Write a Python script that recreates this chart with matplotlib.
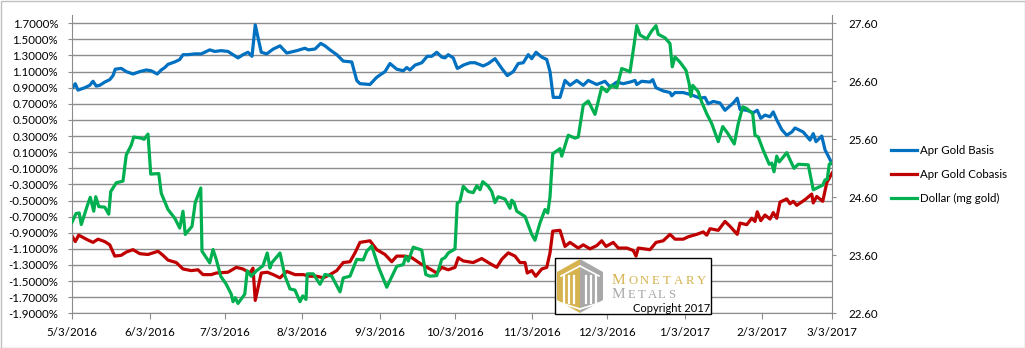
import numpy as np
import pandas as pd
import matplotlib
matplotlib.use('Agg')
import matplotlib.pyplot as plt
import matplotlib.ticker as mticker
from matplotlib.patches import Polygon, Rectangle
from matplotlib.lines import Line2D

plt.rcParams['font.family'] = ['Lato', 'DejaVu Sans']

W, H = 1025, 348
start = pd.Timestamp('2016-05-03')
end = pd.Timestamp('2017-03-03')

# days after 5/3/2016 and April gold basis (%)
basis_days = [0, 1.3, 2.4, 5.1, 7.1, 8.4, 9.7, 11.1, 13.1, 15.1,
              16.4, 17.3, 19.7, 21.7, 24.4, 27.1, 29.7, 31.7, 34.1, 35.7,
              37.1, 38.4, 41.1, 43.1, 44.4, 46.4, 49.1, 51.7, 53.1, 55.1,
              57.1, 59.7, 62.4, 64.4, 66.4, 68.4, 70.4, 72.0, 73.3, 75.7,
              77.9, 80.5, 83.2, 85.9, 89.9, 93.2, 94.5, 97.2, 99.5, 101.2,
              103.2, 105.9, 108.5, 111.9, 113.9, 115.2, 119.2, 121.9, 125.2, 127.2,
              129.9, 132.5, 133.9, 135.2, 137.2, 139.9, 142.1, 143.9, 145.9, 147.9,
              149.2, 150.5, 152.5, 154.1, 154.9, 156.5, 159.2, 161.2, 164.5, 166.5,
              169.2, 171.9, 174.1, 176.5, 178.5, 180.5, 182.5, 183.9, 185.6, 187.9,
              189.9, 191.2, 192.5, 195.2, 197.2, 199.2, 201.9, 204.5, 206.5, 209.9,
              213.2, 215.2, 217.9, 220.5, 223.2, 225.2, 225.9, 227.9, 231.2, 232.3,
              233.6, 236.5, 239.2, 239.9, 241.2, 244.5, 247.9, 251.2, 253.2, 254.5,
              256.5, 259.2, 261.2, 264.5, 266.1, 267.2, 269.9, 272.5, 274.1, 275.5,
              277.2, 279.2, 280.5, 281.9, 283.9, 285.9, 287.9, 289.2, 292.5, 295.2,
              296.5, 297.6, 299.9, 301.2, 304]
basis = [0.89, 0.95, 0.87, 0.90, 0.93, 0.98, 0.92, 0.93, 0.97, 1.00,
         1.05, 1.13, 1.14, 1.10, 1.07, 1.10, 1.12, 1.11, 1.07, 1.12,
         1.15, 1.19, 1.22, 1.25, 1.31, 1.31, 1.32, 1.32, 1.34, 1.37,
         1.35, 1.36, 1.35, 1.31, 1.27, 1.31, 1.34, 1.29, 1.68, 1.34,
         1.32, 1.38, 1.42, 1.33, 1.36, 1.39, 1.37, 1.38, 1.45, 1.42,
         1.37, 1.31, 1.23, 1.22, 0.99, 0.95, 0.94, 1.03, 1.10, 1.20,
         1.13, 1.11, 1.15, 1.12, 1.18, 1.21, 1.29, 1.29, 1.34, 1.28,
         1.27, 1.31, 1.27, 1.14, 1.15, 1.18, 1.21, 1.21, 1.17, 1.20,
         1.26, 1.14, 1.05, 1.10, 1.20, 1.21, 1.31, 1.26, 1.34, 1.28,
         1.25, 1.10, 0.78, 0.78, 0.99, 0.93, 0.99, 0.93, 0.99, 0.94,
         0.98, 0.91, 0.97, 0.95, 0.97, 0.99, 0.94, 0.98, 0.97, 1.00,
         0.90, 0.86, 0.84, 0.80, 0.84, 0.84, 0.81, 0.77, 0.78, 0.70,
         0.73, 0.71, 0.62, 0.71, 0.77, 0.63, 0.62, 0.59, 0.62, 0.52,
         0.56, 0.54, 0.60, 0.50, 0.38, 0.31, 0.35, 0.40, 0.35, 0.25,
         0.33, 0.23, 0.30, 0.13, -0.04]

# April gold cobasis (%)
cobasis_days = [0, 1.3, 2.7, 5.7, 8.4, 10.4, 13.1, 15.1, 17.1, 19.7,
                21.7, 24.4, 27.1, 30.4, 32.4, 34.4, 36.4, 38.4, 41.7, 44.4,
                47.7, 50.4, 52.4, 55.7, 57.7, 62.4, 65.7, 68.4, 71.1, 72.4,
                73.3, 75.7, 78.1, 80.5, 83.2, 85.9, 89.2, 92.5, 95.2, 97.9,
                100.5, 103.2, 105.9, 108.5, 111.2, 113.2, 115.2, 119.2, 121.9, 125.2,
                127.9, 129.9, 133.2, 135.9, 139.2, 143.2, 145.9, 147.9, 150.5, 153.2,
                154.5, 156.5, 160.5, 163.9, 166.5, 169.9, 171.9, 174.5, 177.2, 179.2,
                181.2, 182.1, 183.9, 185.5, 187.9, 189.9, 191.2, 192.3, 195.2, 197.2,
                199.2, 202.5, 204.5, 207.2, 209.9, 211.9, 213.6, 216.5, 218.5, 221.9,
                224.5, 225.6, 226.5, 231.2, 232.3, 233.6, 236.5, 239.2, 241.2, 244.5,
                246.5, 249.9, 252.5, 253.9, 255.2, 258.5, 261.2, 263.2, 266.1, 267.2,
                269.9, 271.9, 273.2, 274.1, 275.5, 277.2, 279.2, 280.5, 281.9, 283.2,
                285.9, 287.2, 288.5, 289.9, 293.2, 295.9, 296.5, 297.9, 300.3, 301.9,
                304]
cobasis = [-0.94, -1.01, -0.93, -0.98, -1.02, -0.98, -1.01, -1.05, -1.19, -1.18,
           -1.14, -1.11, -1.16, -1.17, -1.15, -1.13, -1.18, -1.24, -1.27, -1.35,
           -1.37, -1.36, -1.42, -1.42, -1.40, -1.39, -1.33, -1.35, -1.40, -1.34,
           -1.74, -1.40, -1.39, -1.42, -1.46, -1.38, -1.42, -1.42, -1.44, -1.44,
           -1.46, -1.42, -1.37, -1.27, -1.26, -1.15, -1.02, -1.00, -1.11, -1.17,
           -1.26, -1.19, -1.19, -1.21, -1.28, -1.35, -1.40, -1.33, -1.36, -1.33,
           -1.21, -1.25, -1.27, -1.22, -1.27, -1.33, -1.23, -1.15, -1.19, -1.27,
           -1.27, -1.40, -1.37, -1.44, -1.35, -1.33, -1.15, -0.88, -0.87, -1.07,
           -1.02, -1.09, -1.05, -1.10, -1.06, -1.00, -1.07, -1.02, -1.09, -1.09,
           -1.12, -1.19, -1.09, -1.11, -1.07, -1.02, -1.00, -0.92, -0.98, -0.98,
           -0.95, -0.92, -0.89, -0.93, -0.85, -0.87, -0.76, -0.82, -0.92, -0.78,
           -0.80, -0.72, -0.76, -0.64, -0.75, -0.68, -0.73, -0.65, -0.72, -0.52,
           -0.48, -0.54, -0.51, -0.56, -0.49, -0.42, -0.53, -0.45, -0.51, -0.28,
           -0.16]

# Dollar priced in milligrams of gold (right axis)
dollar_days = [0, 1.6, 2.9, 3.7, 6.0, 7.3, 8.7, 9.5, 10.7, 13.1,
               14.7, 15.5, 17.7, 20.4, 21.7, 23.7, 24.7, 27.7, 28.8, 30.4,
               31.5, 34.7, 35.7, 38.4, 41.1, 43.1, 44.4, 45.3, 48.0, 49.3,
               51.5, 52.0, 55.1, 56.4, 57.7, 59.5, 61.7, 63.7, 64.4, 65.3,
               66.4, 69.1, 70.1, 71.7, 73.7, 76.4, 78.1, 79.2, 79.9, 83.2,
               85.2, 87.2, 89.2, 91.2, 92.3, 93.6, 94.1, 96.5, 99.2, 101.2,
               103.9, 107.2, 108.5, 111.2, 113.9, 116.5, 117.9, 119.9, 122.5, 125.9,
               129.9, 132.5, 133.5, 134.5, 136.5, 139.9, 141.5, 143.2, 145.9, 147.9,
               149.2, 150.5, 153.2, 154.1, 155.2, 156.5, 158.5, 160.5, 161.9, 163.2,
               164.3, 166.5, 167.9, 169.2, 170.5, 173.2, 175.2, 175.9, 176.8, 177.9,
               181.2, 183.9, 185.2, 187.2, 189.2, 190.3, 191.2, 192.3, 195.2, 195.9,
               198.5, 201.2, 202.5, 204.5, 206.5, 209.2, 211.9, 213.9, 215.9, 217.9,
               219.9, 221.9, 223.2, 224.8, 225.9, 227.2, 229.9, 231.9, 233.6, 234.5,
               237.2, 239.2, 240.1, 241.2, 243.2, 245.6, 246.9, 247.5, 248.3, 250.5,
               251.9, 253.9, 255.9, 258.5, 260.3, 262.5, 264.9, 266.5, 268.3, 269.9,
               272.3, 273.2, 274.5, 276.5, 278.9, 279.9, 280.8, 281.9, 282.9, 285.9,
               288.8, 290.5, 294.5, 296.5, 300.3, 301.2, 302.1, 302.9, 304]
dollar = [24.17, 24.32, 24.33, 24.13, 24.44, 24.60, 24.36, 24.61, 24.44, 24.43,
          24.31, 24.70, 24.85, 24.88, 25.33, 25.50, 25.64, 25.62, 25.60, 25.69,
          25.00, 25.01, 24.67, 24.39, 24.24, 24.07, 24.36, 23.96, 24.10, 24.51,
          24.76, 23.67, 23.47, 23.70, 23.53, 23.24, 23.10, 22.93, 22.80, 22.87,
          22.77, 22.93, 23.33, 23.24, 23.33, 23.42, 23.64, 23.38, 23.47, 23.64,
          23.24, 23.02, 23.00, 22.80, 22.90, 22.84, 23.28, 23.28, 23.10, 23.27,
          23.24, 22.97, 23.21, 23.24, 23.53, 23.52, 23.67, 23.76, 23.41, 23.05,
          23.41, 23.44, 23.58, 23.50, 23.74, 23.69, 23.27, 23.24, 23.25, 23.53,
          23.56, 23.64, 23.71, 24.50, 24.53, 24.79, 24.70, 24.68, 24.80, 24.73,
          24.87, 24.79, 24.70, 24.51, 24.61, 24.57, 24.41, 24.55, 24.51, 24.36,
          24.27, 23.96, 23.86, 24.16, 24.39, 24.33, 24.61, 25.35, 25.44, 25.31,
          25.67, 25.62, 25.64, 26.19, 26.26, 26.03, 26.50, 26.42, 26.53, 26.49,
          26.82, 26.79, 26.76, 27.22, 27.56, 27.40, 27.33, 27.47, 27.56, 27.41,
          27.35, 27.25, 26.85, 27.02, 26.93, 26.79, 26.55, 26.34, 26.53, 26.42,
          26.24, 26.04, 25.87, 25.56, 25.82, 25.69, 25.52, 25.87, 26.16, 26.13,
          26.04, 25.67, 25.64, 25.41, 25.17, 25.19, 25.04, 25.31, 25.21, 25.37,
          25.10, 25.17, 25.16, 24.73, 24.81, 24.90, 24.91, 25.17, 25.20]

left_ticks = np.round(np.arange(-19, 18, 2) / 10, 1)
right_ticks = [22.6, 23.6, 24.6, 25.6, 26.6, 27.6]
month_ticks = pd.date_range(start, end, freq=pd.DateOffset(months=1))
month_labels = [f'{d.month}/{d.day}/{d.year}' for d in month_ticks]

BLUE, RED, GREEN = '#0070C0', '#C00000', '#00B050'
GRID = '#8C8C8C'


def px(x, y):
    # pixel position -> figure fraction
    return x / W, 1 - y / H


def dates(days):
    return start + pd.to_timedelta(days, unit='D')


fig = plt.figure(figsize=(W / 100, H / 100), dpi=100)
ax = fig.add_axes([72 / W, 1 - 313.3 / H, (832 - 72) / W, (313.3 - 15.2) / H])
ax2 = ax.twinx()

ax.plot(dates(basis_days), basis, color=BLUE, lw=2.3, solid_joinstyle='round')
ax.plot(dates(cobasis_days), cobasis, color=RED, lw=2.3, solid_joinstyle='round')
ax2.plot(dates(dollar_days), dollar, color=GREEN, lw=2.3, solid_joinstyle='round')

ax.set_xlim(start, end)
ax.set_ylim(-1.9, 1.8)
ax.set_yticks(left_ticks)
ax.yaxis.set_major_formatter(mticker.FuncFormatter(lambda v, p: f'{v:.4f}%'))
ax.set_xticks(month_ticks)
ax.set_xticklabels(month_labels)
ax.grid(axis='y', color=GRID, lw=1)
ax.set_axisbelow(True)

ax2.set_ylim(22.6, 27.74)
ax2.set_yticks(right_ticks)
ax2.yaxis.set_major_formatter(mticker.FuncFormatter(lambda v, p: f'{v:.2f}'))

for a in (ax, ax2):
    for s in a.spines.values():
        s.set_color(GRID)
    a.spines['top'].set_visible(False)
ax.spines['right'].set_visible(False)
ax2.spines['left'].set_visible(False)
ax2.spines['bottom'].set_visible(False)

ax.tick_params(axis='y', length=3, color=GRID, pad=7, labelsize=8.3)
ax.tick_params(axis='x', length=4, color=GRID, pad=6, labelsize=8.3)
ax2.tick_params(axis='y', length=3, color=GRID, pad=9, labelsize=8.3)

# legend drawn by hand on the right
legend = [('Apr Gold Basis', BLUE), ('Apr Gold Cobasis', RED), ('Dollar (mg gold)', GREEN)]
for i, (name, col) in enumerate(legend):
    y = 150 + 24 * i
    x0, y0 = px(891, y)
    x1, _ = px(917, y)
    fig.add_artist(Line2D([x0, x1], [y0, y0], color=col, lw=2.3))
    tx, ty = px(920, y)
    fig.text(tx, ty, name, fontsize=8.3, va='center', ha='left')

# Monetary Metals logo box
bx, by = px(555, 314)
bw, bh = 156 / W, 56 / H
fig.add_artist(Rectangle((bx, by), bw, bh, transform=fig.transFigure,
                         facecolor='white', edgecolor='black', lw=1, zorder=10))
gold, grey = '#D6B34E', '#A8A8A8'
left_half = [px(580, 259), px(557, 272), px(557, 300), px(580, 313)]
right_half = [px(580, 259), px(603, 272), px(603, 300), px(580, 313)]
fig.add_artist(Polygon(left_half, closed=True, transform=fig.transFigure,
                       facecolor=gold, edgecolor='none', zorder=11))
fig.add_artist(Polygon(right_half, closed=True, transform=fig.transFigure,
                       facecolor=grey, edgecolor='none', zorder=11))
for xs in (564, 569, 574, 586, 591, 596):
    xa, ya = px(xs, 276)
    _, yb = px(xs, 303)
    fig.add_artist(Line2D([xa, xa], [ya, yb], color='white', lw=1.6, zorder=12))
for seg in ((561, 276, 580, 266), (580, 266, 599, 276), (561, 303, 580, 309), (580, 309, 599, 303)):
    xa, ya = px(seg[0], seg[1])
    xb, yb = px(seg[2], seg[3])
    fig.add_artist(Line2D([xa, xb], [ya, yb], color='white', lw=1.2, zorder=12))

# small-caps wordmark, letters placed one by one to get the wide spacing
serif = ['Liberation Serif', 'DejaVu Serif']
for word, col, base, pitch in (('ONETARY', gold, 284, 11.4), ('ETALS', grey, 298, 10.0)):
    tx, ty = px(612, base)
    fig.text(tx, ty, 'M', fontsize=11, color=col, family=serif, va='baseline', zorder=12)
    for k, ch in enumerate(word):
        tx, ty = px(627 + pitch * (k + 0.5), base)
        fig.text(tx, ty, ch, fontsize=9.2, color=col, family=serif,
                 ha='center', va='baseline', zorder=12)
tx, ty = px(633, 308.5)
fig.text(tx, ty, 'Copyright 2017', fontsize=8, color='black', va='center', zorder=12)

# light frame round the whole chart
fig.add_artist(Rectangle((0.5 / W, 0.5 / H), 1 - 1 / W, 1 - 1 / H, transform=fig.transFigure,
                         fill=False, edgecolor='#BFBFBF', lw=1))

fig.savefig('out.png', dpi=100)
